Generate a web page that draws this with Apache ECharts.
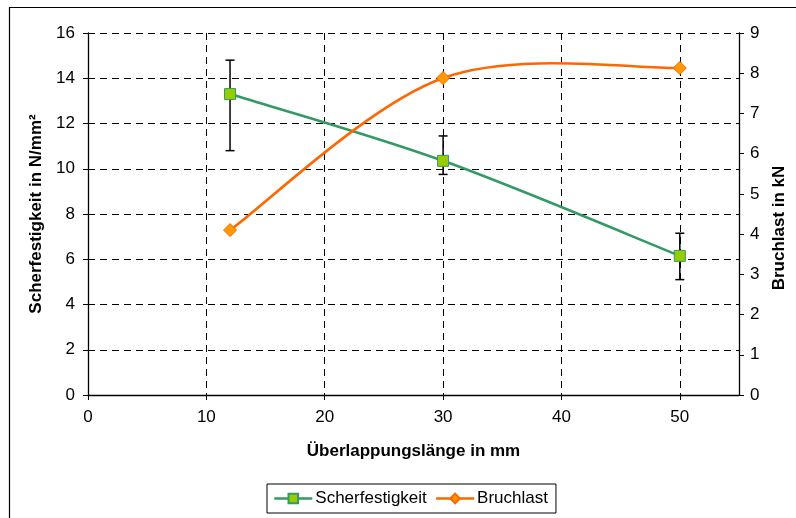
<!DOCTYPE html>
<html>
<head>
<meta charset="utf-8">
<script src="https://cdn.jsdelivr.net/npm/echarts@6/dist/echarts.min.js"></script>
<style>
html,body{margin:0;padding:0;background:#fff;}
#c{width:796px;height:518px;}
</style>
</head>
<body>
<div id="c"></div>
<script>
// Data
const xValues = [12, 30, 50];
const scherfestigkeit = [13.3, 10.35, 6.15];
const scherErrLow = [10.8, 9.75, 5.1];
const scherErrHigh = [14.8, 11.45, 7.15];
const bruchlast = [4.1, 7.88, 8.13];
const seriesNames = ['Scherfestigkeit', 'Bruchlast'];
const xAxisName = 'Überlappungslänge in mm';
const yLeftName = 'Scherfestigkeit in N/mm²';
const yRightName = 'Bruchlast in kN';

const font = 'Liberation Sans, Arial, sans-serif';
const green = '#339966', greenFill = '#99cc00';
const orange = '#ff6600', orangeFill = '#ff9900';
const chart = echarts.init(document.getElementById('c'), null, {renderer: 'canvas'});

const scherData = xValues.map((x, i) => [x, scherfestigkeit[i]]);
const bruchData = xValues.map((x, i) => [x, bruchlast[i]]);
const errData = xValues.map((x, i) => [x, scherErrLow[i], scherErrHigh[i]]);

// Excel-style smoothed curve (cubic Bezier through the data points), in pixel space
function smoothRender(values, color) {
  return function (params, api) {
    if (params.dataIndex !== 0) return null;
    const pts = values.map(v => api.coord(v));
    const n = pts.length;
    let d = 'M' + pts[0][0] + ' ' + pts[0][1];
    for (let i = 0; i < n - 1; i++) {
      const p0 = pts[Math.max(i - 1, 0)], p1 = pts[i], p2 = pts[i + 1], p3 = pts[Math.min(i + 2, n - 1)];
      const c1 = [p1[0] + (p2[0] - p0[0]) / 6, p1[1] + (p2[1] - p0[1]) / 6];
      const c2 = [p2[0] - (p3[0] - p1[0]) / 6, p2[1] - (p3[1] - p1[1]) / 6];
      d += ' C' + c1[0] + ' ' + c1[1] + ' ' + c2[0] + ' ' + c2[1] + ' ' + p2[0] + ' ' + p2[1];
    }
    return {type: 'path', shape: {pathData: d}, style: {fill: 'none', stroke: color, lineWidth: 2.6}};
  };
}

const axisFont = {fontFamily: font, fontSize: 17, color: '#000'};
const nameFont = {fontFamily: font, fontSize: 17, fontWeight: 'bold', color: '#000'};
const gridLine = {show: true, lineStyle: {color: '#000', type: [7, 5], width: 1}};

const option = {
  animation: false,
  backgroundColor: '#fff',
  textStyle: {fontFamily: font},
  graphic: [{
    type: 'rect', left: 7, top: 5, z: -1,
    shape: {width: 800, height: 520},
    style: {fill: 'none', stroke: '#000', lineWidth: 1.2}
  }],
  grid: {left: 88, top: 33, width: 651, height: 362, containLabel: false},
  legend: {
    bottom: 5, left: 267,
    data: [
      {name: seriesNames[0], lineStyle: {width: 2.6, color: green, opacity: 1}},
      {name: seriesNames[1], lineStyle: {width: 2.6, color: orange, opacity: 1}}
    ],
    borderColor: '#000', borderWidth: 1, borderRadius: 0,
    padding: [6, 8, 6, 6],
    itemGap: 8,
    itemWidth: 38, itemHeight: 12,
    textStyle: {fontFamily: font, fontSize: 17, color: '#000', padding: [0, 0, 0, -2]}
  },
  xAxis: {
    type: 'value', min: 0, max: 55, interval: 10,
    name: xAxisName, nameLocation: 'middle', nameGap: 48,
    nameTextStyle: nameFont,
    axisLine: {show: true, lineStyle: {color: '#000', width: 1.3}},
    axisTick: {show: true, length: 5, lineStyle: {color: '#000'}},
    axisLabel: Object.assign({margin: 14, showMaxLabel: false}, axisFont),
    splitLine: gridLine
  },
  yAxis: [{
    type: 'value', min: 0, max: 16, interval: 2,
    name: yLeftName, nameLocation: 'middle', nameGap: 42, nameRotate: 90,
    nameTextStyle: nameFont,
    axisLine: {show: true, lineStyle: {color: '#000', width: 1.3}},
    axisTick: {show: true, length: 5, lineStyle: {color: '#000'}},
    axisLabel: Object.assign({margin: 13}, axisFont),
    splitLine: gridLine
  }, {
    type: 'value', min: 0, max: 9, interval: 1, position: 'right',
    name: yRightName, nameLocation: 'middle', nameGap: 28, nameRotate: 90,
    nameTextStyle: {fontFamily: font, fontSize: 17, fontWeight: 'bold', color: '#000', padding: [0, 28, 0, 0]},
    axisLine: {show: true, lineStyle: {color: '#000', width: 1.3}},
    axisTick: {show: true, length: 5, lineStyle: {color: '#000'}},
    axisLabel: Object.assign({margin: 11}, axisFont),
    splitLine: {show: false}
  }],
  series: [{
    type: 'custom', yAxisIndex: 0, data: scherData,
    renderItem: smoothRender(scherData, green), z: 3, silent: true
  }, {
    type: 'custom', yAxisIndex: 1, data: bruchData,
    renderItem: smoothRender(bruchData, orange), z: 3, silent: true
  }, {
    type: 'custom', yAxisIndex: 0,
    data: errData,
    renderItem: function (params, api) {
      const x = api.value(0);
      const lo = api.coord([x, api.value(1)]);
      const hi = api.coord([x, api.value(2)]);
      const w = 4.5;
      const st = {stroke: '#000', lineWidth: 1.5};
      return {type: 'group', children: [
        {type: 'line', shape: {x1: lo[0], y1: lo[1], x2: hi[0], y2: hi[1]}, style: st},
        {type: 'line', shape: {x1: lo[0] - w, y1: lo[1], x2: lo[0] + w, y2: lo[1]}, style: st},
        {type: 'line', shape: {x1: hi[0] - w, y1: hi[1], x2: hi[0] + w, y2: hi[1]}, style: st}
      ]};
    },
    z: 2, silent: true
  }, {
    name: seriesNames[0], type: 'line', yAxisIndex: 0,
    data: scherData,
    symbol: 'rect', symbolSize: 11,
    lineStyle: {color: green, width: 0, opacity: 0},
    itemStyle: {color: greenFill, borderColor: green, borderWidth: 1},
    z: 4
  }, {
    name: seriesNames[1], type: 'line', yAxisIndex: 1,
    data: bruchData,
    symbol: 'diamond', symbolSize: 13,
    lineStyle: {color: orange, width: 0, opacity: 0},
    itemStyle: {color: orangeFill, borderColor: orange, borderWidth: 1},
    z: 4
  }]
};
chart.setOption(option);
</script>
</body>
</html>
